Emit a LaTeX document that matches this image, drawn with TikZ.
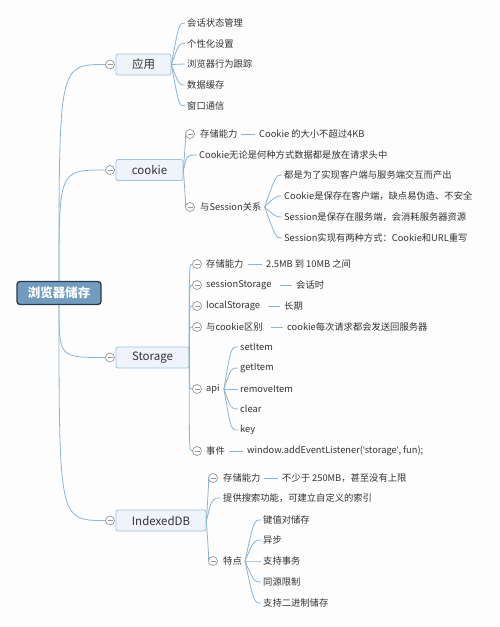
\documentclass[tikz,border=0pt]{standalone}
\usepackage{fontspec}
\setmainfont{Noto Sans CJK SC}
\newfontfamily\latinfont{Liberation Sans}
\definecolor{lineblue}{RGB}{140,180,210}
\definecolor{rootborder}{RGB}{44,58,72}
\definecolor{rootfill}{RGB}{111,156,191}
\definecolor{boxborder}{RGB}{160,195,222}
\definecolor{boxfill}{RGB}{238,244,249}
\definecolor{txt}{RGB}{51,51,51}
\definecolor{collgray}{RGB}{150,150,150}
\definecolor{bg}{RGB}{253,253,253}
\begin{document}
\begin{tikzpicture}[x=1pt,y=-1pt,
  conn/.style={draw=lineblue,line width=0.8pt},
  rootbox/.style={draw=rootborder,line width=1.3pt,fill=rootfill,rounded corners=3pt,text=white,font=\fontsize{12.5}{14}\selectfont\bfseries,minimum width=84pt,minimum height=23pt,inner sep=0pt},
  mainbox/.style={draw=boxborder,line width=0.8pt,fill=boxfill,rounded corners=2pt,text=txt,font=\fontsize{11.5}{13}\selectfont,minimum height=21pt,inner sep=0pt},
  leaf/.style={anchor=west,inner sep=0pt,text=txt,font=\fontsize{9.3}{11}\selectfont},
  coll/.style={circle,draw=collgray,fill=white,line width=0.7pt,minimum size=9pt,inner sep=0pt,
    path picture={\draw[collgray,line width=0.7pt] ([xshift=-2.5pt]path picture bounding box.center) -- ([xshift=2.5pt]path picture bounding box.center);}}
]
\useasboundingbox[fill=bg] (0,0) rectangle (500,627);

% root
\node[rootbox] (root) at (59,293) {浏览器储存};

% main boxes
\node[mainbox,minimum width=55pt] (app) at (143.5,64.5) {应用};
\node[mainbox,minimum width=67pt] (cookie) at (149.5,170) {cookie};
\node[mainbox,minimum width=73pt] (storage) at (152.5,357.5) {Storage};
\node[mainbox,minimum width=90pt] (idb) at (161,520.5) {IndexedDB};

\node[coll] (capp) at (110,64.5) {};
\node[coll] (ccookie) at (110,170) {};
\node[coll] (cstorage) at (110,357.5) {};
\node[coll] (cidb) at (110,520.5) {};

\draw[conn] (root.north) .. controls (59,64.5) .. (capp.west);
\draw[conn] (root.north) .. controls (59,170) .. (ccookie.west);
\draw[conn] (root.south) .. controls (59,357.5) .. (cstorage.west);
\draw[conn] (root.south) .. controls (59,520.5) .. (cidb.west);

% 应用 children
\node[leaf] (a1) at (187,23) {会话状态管理};
\node[leaf] (a2) at (187,43.5) {个性化设置};
\node[leaf] (a3) at (187,64) {浏览器行为跟踪};
\node[leaf] (a4) at (187,85) {数据缓存};
\node[leaf] (a5) at (187,106) {窗口通信};
\foreach \n in {a1,a2,a3,a4,a5}{
  \draw[conn] (app.east) .. controls ([xshift=-8pt]\n.west) .. ([xshift=-2pt]\n.west);
}

% cookie children
\node[coll] (cc1) at (190,134) {};
\node[leaf] (c1) at (200,134) {存储能力};
\node[leaf] (c1v) at (259,134) {Cookie 的大小不超过4KB};
\draw[conn] ([xshift=3pt]c1.east) -- ([xshift=-4pt]c1v.west);
\node[leaf] (c2) at (199,155) {Cookie无论是何种方式数据都是放在请求头中};
\node[coll] (cc3) at (190,207) {};
\node[leaf] (c3) at (200,207) {与Session关系};
\draw[conn] (cookie.east) .. controls (186,134) .. (cc1.west);
\draw[conn] (cookie.east) .. controls (187,155) .. ([xshift=-2pt]c2.west);
\draw[conn] (cookie.east) .. controls (186,207) .. (cc3.west);

\node[leaf] (s1) at (284,175) {都是为了实现客户端与服务端交互而产出};
\node[leaf] (s2) at (284,196) {Cookie是保存在客户端，缺点易伪造、不安全};
\node[leaf] (s3) at (284,217) {Session是保存在服务端，会消耗服务器资源};
\node[leaf] (s4) at (284,238) {Session实现有两种方式：Cookie和URL重写};
\foreach \n in {s1,s2,s3,s4}{
  \draw[conn] ([xshift=3pt]c3.east) .. controls ([xshift=-8pt]\n.west) .. ([xshift=-2pt]\n.west);
}

% Storage children
\node[coll] (cs1) at (197,264) {};
\node[leaf] (st1) at (206,264) {存储能力};
\node[leaf] (st1v) at (266,264) {2.5MB 到 10MB 之间};
\draw[conn] ([xshift=4pt]st1.east) -- ([xshift=-4pt]st1v.west);

\node[coll] (cs2) at (197,285) {};
\node[leaf] (st2) at (206,285) {sessionStorage};
\node[leaf] (st2v) at (296,285) {会话时};
\draw[conn] ([xshift=8pt]st2.east) -- ([xshift=-4pt]st2v.west);

\node[coll] (cs3) at (197,306) {};
\node[leaf] (st3) at (206,306) {localStorage};
\node[leaf] (st3v) at (284,306) {长期};
\draw[conn] ([xshift=8pt]st3.east) -- ([xshift=-4pt]st3v.west);

\node[coll] (cs4) at (197,327) {};
\node[leaf] (st4) at (206,327) {与cookie区别};
\node[leaf] (st4v) at (287,327) {cookie每次请求都会发送回服务器};
\draw[conn] ([xshift=8pt]st4.east) -- ([xshift=-4pt]st4v.west);

\node[coll] (cs5) at (197,389) {};
\node[leaf] (st5) at (206,389) {api};

\node[coll] (cs6) at (197,451) {};
\node[leaf] (st6) at (206,451) {事件};
\node[leaf] (st6v) at (247,451) {window.addEventListener({\latinfont\textquotesingle}storage{\latinfont\textquotesingle}, fun);};
\draw[conn] ([xshift=4pt]st6.east) -- ([xshift=-4pt]st6v.west);

\foreach \n in {cs1,cs2,cs3,cs4,cs5,cs6}{
  \draw[conn] (storage.east) .. controls ([xshift=-3pt]\n.west) .. (\n.west);
}

\node[leaf] (p1) at (240,347) {setItem};
\node[leaf] (p2) at (240,368) {getItem};
\node[leaf] (p3) at (240,389) {removeItem};
\node[leaf] (p4) at (240,409) {clear};
\node[leaf] (p5) at (240,430) {key};
\foreach \n in {p1,p2,p3,p4,p5}{
  \draw[conn] ([xshift=4pt]st5.east) .. controls ([xshift=-9pt]\n.west) .. ([xshift=-2pt]\n.west);
}

% IndexedDB children
\node[coll] (ci1) at (213,478) {};
\node[leaf] (i1) at (223,478) {存储能力};
\node[leaf] (i1v) at (282,478) {不少于 250MB，甚至没有上限};
\draw[conn] ([xshift=3pt]i1.east) -- ([xshift=-4pt]i1v.west);
\node[leaf] (i2) at (223,498) {提供搜索功能，可建立自定义的索引};
\node[coll] (ci3) at (213,561) {};
\node[leaf] (i3) at (223,561) {特点};
\draw[conn] (idb.east) .. controls (209,478) .. (ci1.west);
\draw[conn] (idb.east) .. controls (212,498) .. ([xshift=-2pt]i2.west);
\draw[conn] (idb.east) .. controls (209,561) .. (ci3.west);

\node[leaf] (f1) at (263,520) {键值对储存};
\node[leaf] (f2) at (263,540) {异步};
\node[leaf] (f3) at (263,561) {支持事务};
\node[leaf] (f4) at (263,582) {同源限制};
\node[leaf] (f5) at (263,603) {支持二进制储存};
\foreach \n in {f1,f2,f3,f4,f5}{
  \draw[conn] ([xshift=3pt]i3.east) .. controls ([xshift=-9pt]\n.west) .. ([xshift=-2pt]\n.west);
}
\end{tikzpicture}
\end{document}
